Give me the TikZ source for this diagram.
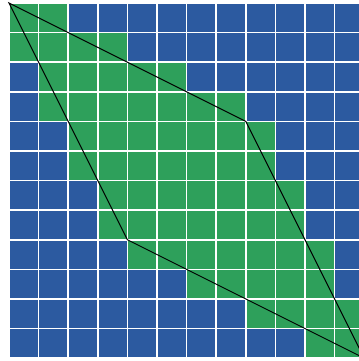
\documentclass[tikz,border=0pt]{standalone}
\usepackage{xcolor}
\usepackage{tikz}
\definecolor{cellblue}{HTML}{2C5AA0}
\definecolor{cellgreen}{HTML}{2EA05B}
\tikzset{
  bluecell/.style={fill=cellblue},
  greencell/.style={fill=cellgreen},
  gridline/.style={draw=white, line width=1.4pt},
  outline/.style={draw=black, line width=0.9pt, line join=miter}
}

\begin{document}
\begin{tikzpicture}[x=1cm,y=-1cm]
  \useasboundingbox (-0.304,-0.101) rectangle (11.824,12.095);
  \clip (-0.304,-0.101) rectangle (11.824,12.095);

  % cells: blue everywhere, green where the polygon covers them
  \fill[bluecell] (0,0) rectangle (12,12);
  \foreach \row/\first/\last in {0/0/1, 1/0/3, 2/1/5, 3/1/7, 4/2/8, 5/2/8,
                                6/3/9, 7/3/9, 8/4/10, 9/6/10, 10/8/11, 11/10/11} {
    \fill[greencell] (\first,\row) rectangle (\last+1,\row+1);
  }

  % white grid
  \foreach \i in {0,...,12} {
    \draw[gridline] (\i,0) -- (\i,12);
    \draw[gridline] (0,\i) -- (12,\i);
  }

  % the quadrilateral
  \draw[outline] (0,0) -- (8,4) -- (12,12) -- (4,8) -- cycle;
\end{tikzpicture}
\end{document}
